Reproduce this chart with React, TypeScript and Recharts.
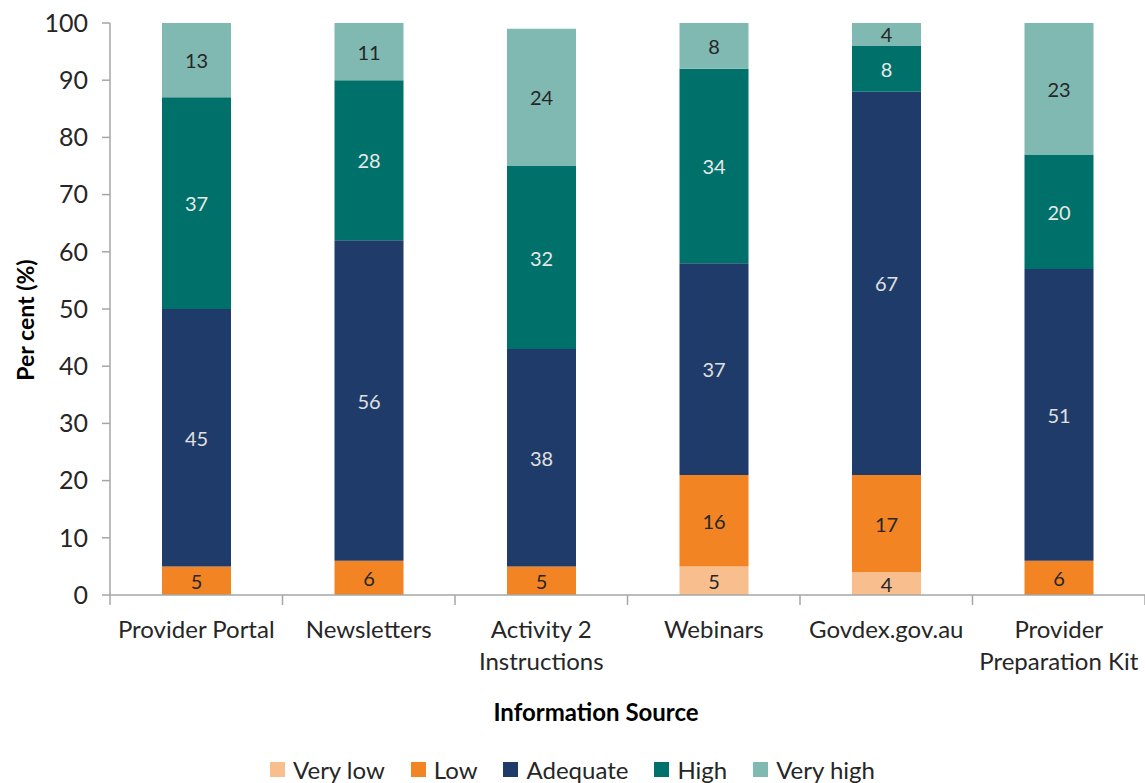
import React from "react";
import {
  BarChart,
  Bar,
  XAxis,
  YAxis,
  Legend,
  LabelList,
} from "recharts";

const categories = [
  "Provider Portal",
  "Newsletters",
  "Activity 2\nInstructions",
  "Webinars",
  "Govdex.gov.au",
  "Provider\nPreparation Kit",
];

const veryLow = [0, 0, 0, 5, 4, 0];
const low = [5, 6, 5, 16, 17, 6];
const adequate = [45, 56, 38, 37, 67, 51];
const high = [37, 28, 32, 34, 8, 20];
const veryHigh = [13, 11, 24, 8, 4, 23];

const yTicks = [0, 10, 20, 30, 40, 50, 60, 70, 80, 90, 100];

const series = [
  { key: "veryLow", name: "Very low", color: "#F8BE8E", text: "#262626" },
  { key: "low", name: "Low", color: "#F38423", text: "#262626" },
  { key: "adequate", name: "Adequate", color: "#1F3B69", text: "#E0E0E0" },
  { key: "high", name: "High", color: "#00716A", text: "#E8E8E8" },
  { key: "veryHigh", name: "Very high", color: "#80B9B2", text: "#262626" },
];

const data = categories.map((c, i) => ({
  name: c,
  veryLow: veryLow[i],
  low: low[i],
  adequate: adequate[i],
  high: high[i],
  veryHigh: veryHigh[i],
}));

const FONT = "Lato, 'Open Sans', sans-serif";
const AXIS = "#A6A6A6";

// category label plus Excel-style tick marks on the band edges
const CategoryTick = (props: any) => {
  const { x, y, payload, width, visibleTicksCount, index } = props;
  const step = width / visibleTicksCount;
  const lines = String(payload.value).split("\n");
  const last = index === visibleTicksCount - 1;
  return (
    <g>
      <line x1={x - step / 2} x2={x - step / 2} y1={y} y2={y + 10} stroke={AXIS} strokeWidth={1.5} />
      {last && (
        <line x1={x + step / 2} x2={x + step / 2} y1={y} y2={y + 10} stroke={AXIS} strokeWidth={1.5} />
      )}
      <text
        x={x}
        y={y + 43}
        textAnchor="middle"
        fill="#262626"
        fontSize={24}
        fontFamily={FONT}
      >
        {lines.map((l, i) => (
          <tspan key={i} x={x} dy={i === 0 ? 0 : 32}>
            {l}
          </tspan>
        ))}
      </text>
    </g>
  );
};

const makeLabel = (textColor: string) => (props: any) => {
  const { x, y, width, height, value } = props;
  if (!value) return null;
  return (
    <text
      x={x + width / 2}
      y={y + height / 2}
      textAnchor="middle"
      dominantBaseline="central"
      fill={textColor}
      fontSize={20}
      fontFamily={FONT}
    >
      {value}
    </text>
  );
};

const LegendBox = () => (
  <div
    style={{
      display: "flex",
      justifyContent: "center",
      alignItems: "center",
      fontFamily: FONT,
      fontSize: 24,
      color: "#262626",
      height: 30,
      paddingTop: 4,
    }}
  >
    {series.map((s) => (
      <div
        key={s.key}
        style={{ display: "flex", alignItems: "center", margin: "0 13px" }}
      >
        <span
          style={{
            display: "inline-block",
            width: 15,
            height: 15,
            background: s.color,
            marginRight: 8,
          }}
        />
        <span>{s.name}</span>
      </div>
    ))}
  </div>
);

export default function App() {
  return (
    <div style={{ position: "absolute", left: 0, top: 0, background: "#fff" }}>
      <BarChart
        width={1145}
        height={783}
        data={data}
        margin={{ top: 23, right: 0, bottom: 0, left: 0 }}
        barSize={69}
      >
        <XAxis
          dataKey="name"
          axisLine={{ stroke: AXIS, strokeWidth: 1.5 }}
          tickLine={false}
          tickSize={0}
          tickMargin={0}
          tick={<CategoryTick />}
          interval={0}
          height={155}
          label={{
            content: () => (
              <text
                x={596}
                y={721}
                textAnchor="middle"
                fontSize={24}
                fontWeight="bold"
                fill="#000"
                fontFamily={FONT}
              >
                Information Source
              </text>
            ),
          }}
        />
        <YAxis
          domain={[0, 100]}
          ticks={yTicks}
          allowDataOverflow
          width={110}
          stroke={AXIS}
          strokeWidth={1.5}
          tickSize={8}
          tick={{ fill: "#262626", fontSize: 25, fontFamily: FONT, dx: -12 }}
          label={{
            content: () => (
              <text
                x={25}
                y={320}
                textAnchor="middle"
                transform="rotate(-90 25 320)"
                fontSize={23}
                fontWeight="bold"
                fill="#000"
                fontFamily={FONT}
                dominantBaseline="central"
              >
                Per cent (%)
              </text>
            ),
          }}
        />
        <Legend
          verticalAlign="bottom"
          height={33}
          content={() => <LegendBox />}
        />
        {series.map((s) => (
          <Bar
            key={s.key}
            dataKey={s.key}
            name={s.name}
            stackId="a"
            fill={s.color}
            isAnimationActive={false}
          >
            <LabelList dataKey={s.key} content={makeLabel(s.text)} />
          </Bar>
        ))}
      </BarChart>
    </div>
  );
}
